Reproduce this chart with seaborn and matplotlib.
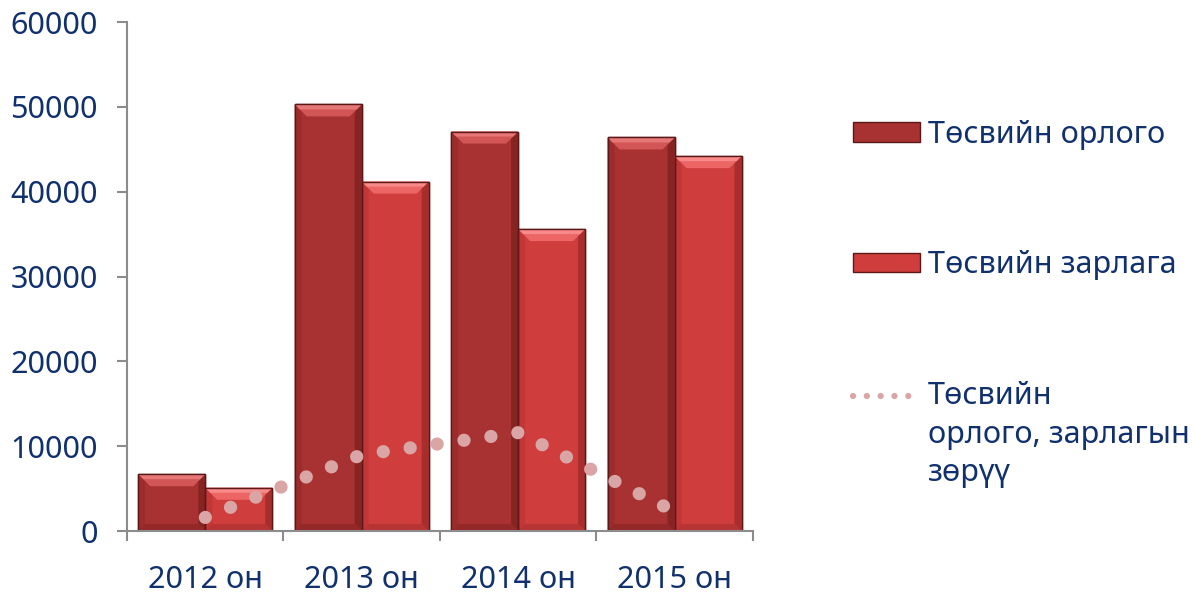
import numpy as np
import pandas as pd
import matplotlib
matplotlib.use("Agg")
import matplotlib.pyplot as plt
from matplotlib.patches import Patch, Polygon
from matplotlib.lines import Line2D
from matplotlib.legend_handler import HandlerLine2D
import seaborn as sns

# данные
years = ["2012 он", "2013 он", "2014 он", "2015 он"]
orlogo = [6700, 50300, 47100, 46400]
zarlaga = [5100, 41200, 35600, 44200]
zoruu = [1600, 9000, 11600, 2300]
series = ["Төсвийн орлого", "Төсвийн зарлага"]
line_label = "Төсвийн\nорлого, зарлагын\nзөрүү"
yticks = [0, 10000, 20000, 30000, 40000, 50000, 60000]

sns.set_theme(style="white")
plt.rcParams["font.family"] = ["Noto Sans", "DejaVu Sans"]

text_c = "#10306e"
axis_c = "#8c8c8c"
bar_c = ["#a83232", "#cf3d3d"]
top_c = ["#d25656", "#ec6666"]
hl_c = ["#e67777", "#f88a8a"]
left_c = ["#9c2c2c", "#c23636"]
right_c = ["#862424", "#a82e2e"]
bot_c = ["#942828", "#b83333"]
edge_c = "#5a1818"
dot_c = "#d9a5a5"

df = pd.DataFrame({
    "year": years * 2,
    "value": orlogo + zarlaga,
    "series": [series[0]] * 4 + [series[1]] * 4,
})

fig = plt.figure(figsize=(11.93, 5.98), dpi=100)
ax = fig.add_axes([0.1065, 0.112, 0.5245, 0.851])

sns.barplot(data=df, x="year", y="value", hue="series", hue_order=series,
            palette=bar_c, width=0.856, saturation=1, edgecolor=edge_c,
            linewidth=1, legend=False, ax=ax)

ax.set_xlim(-0.5, 3.5)
ax.set_ylim(0, 60000)

# бевел эффект (Excel-ийн товгор баганууд)
pos = ax.get_position()
W, H = fig.get_size_inches() * fig.dpi
ux = pos.width * W / 4          # px нэг категорид
uy = pos.height * H / 60000     # px нэг нэгжид
for i, p in enumerate(list(ax.patches)[:8]):
    k = i // 4
    x0, y0 = p.get_x(), p.get_y()
    x1, y1 = x0 + p.get_width(), y0 + p.get_height()
    sx, sy = 7 / ux, 7 / uy
    tx, ty = 12 / ux, 12 / uy
    polys = [
        ([(x0, y0), (x0, y1), (x0 + sx, y1 - sy), (x0 + sx, y0 + sy)], left_c[k]),
        ([(x1, y0), (x1, y1), (x1 - sx, y1 - sy), (x1 - sx, y0 + sy)], right_c[k]),
        ([(x0, y0), (x1, y0), (x1 - sx, y0 + sy), (x0 + sx, y0 + sy)], bot_c[k]),
        ([(x0, y1), (x1, y1), (x1 - tx, y1 - ty), (x0 + tx, y1 - ty)], top_c[k]),
        ([(x0, y1), (x1, y1), (x1 - 5 / ux, y1 - 5 / uy), (x0 + 5 / ux, y1 - 5 / uy)], hl_c[k]),
    ]
    for verts, c in polys:
        ax.add_patch(Polygon(verts, closed=True, facecolor=c, edgecolor="none", zorder=1.5))
    ax.add_patch(Polygon([(x0, y0), (x1, y0), (x1, y1), (x0, y1)], closed=True,
                         facecolor="none", edgecolor=edge_c, lw=1, zorder=1.6))

sns.lineplot(x=years, y=zoruu, ax=ax, color=dot_c, lw=9.5, sort=False,
             linestyle=(0, (0.01, 2.05)), dash_capstyle="round", zorder=3)

ax.set_xlim(-0.5, 3.5)
ax.set_ylim(0, 60000)
ax.set_xlabel("")
ax.set_ylabel("")

ax.set_yticks(yticks)
ax.set_yticklabels([str(v) for v in yticks])
ax.set_xticks(range(4))
ax.set_xticklabels(years)
ax.set_xticks(np.arange(-0.5, 4, 1), minor=True)
ax.tick_params(axis="y", left=True, length=7, width=1.5, color=axis_c, pad=14,
               labelsize=22, labelcolor=text_c)
ax.tick_params(axis="x", which="major", bottom=True, length=0, pad=24.5,
               labelsize=22, labelcolor=text_c)
ax.tick_params(axis="x", which="minor", bottom=True, length=7, width=1.5, color=axis_c)

for s in ["top", "right"]:
    ax.spines[s].set_visible(False)
for s in ["left", "bottom"]:
    ax.spines[s].set_color(axis_c)
    ax.spines[s].set_linewidth(1.5)


class DotHandler(HandlerLine2D):
    # тэмдэглэгээг шошгын эхний мөртэй зэрэгцүүлэх
    def create_artists(self, legend, orig_handle, xdescent, ydescent,
                       width, height, fontsize, trans):
        arts = super().create_artists(legend, orig_handle, xdescent, ydescent,
                                      width, height, fontsize, trans)
        for a in arts:
            a.set_ydata(np.asarray(a.get_ydata(), dtype=float) + 28.8)
        return arts


h1 = Patch(facecolor=bar_c[0], edgecolor=edge_c)
h2 = Patch(facecolor=bar_c[1], edgecolor=edge_c)
h3 = Line2D([], [], color=dot_c, lw=4.5, linestyle=(0, (0.01, 2.2)),
            dash_capstyle="round")
leg = fig.legend([h1, h2, h3], series + [line_label], loc="upper left",
                 bbox_to_anchor=(0.715, 0.80), frameon=False, fontsize=22,
                 handlelength=2.2, handleheight=0.6, handletextpad=0.25,
                 labelspacing=3.3, borderpad=0, borderaxespad=0, labelcolor=text_c,
                 handler_map={h3: DotHandler()})
for t in leg.get_texts():
    t.set_linespacing(1.37)

fig.savefig("out.png", dpi=100)
